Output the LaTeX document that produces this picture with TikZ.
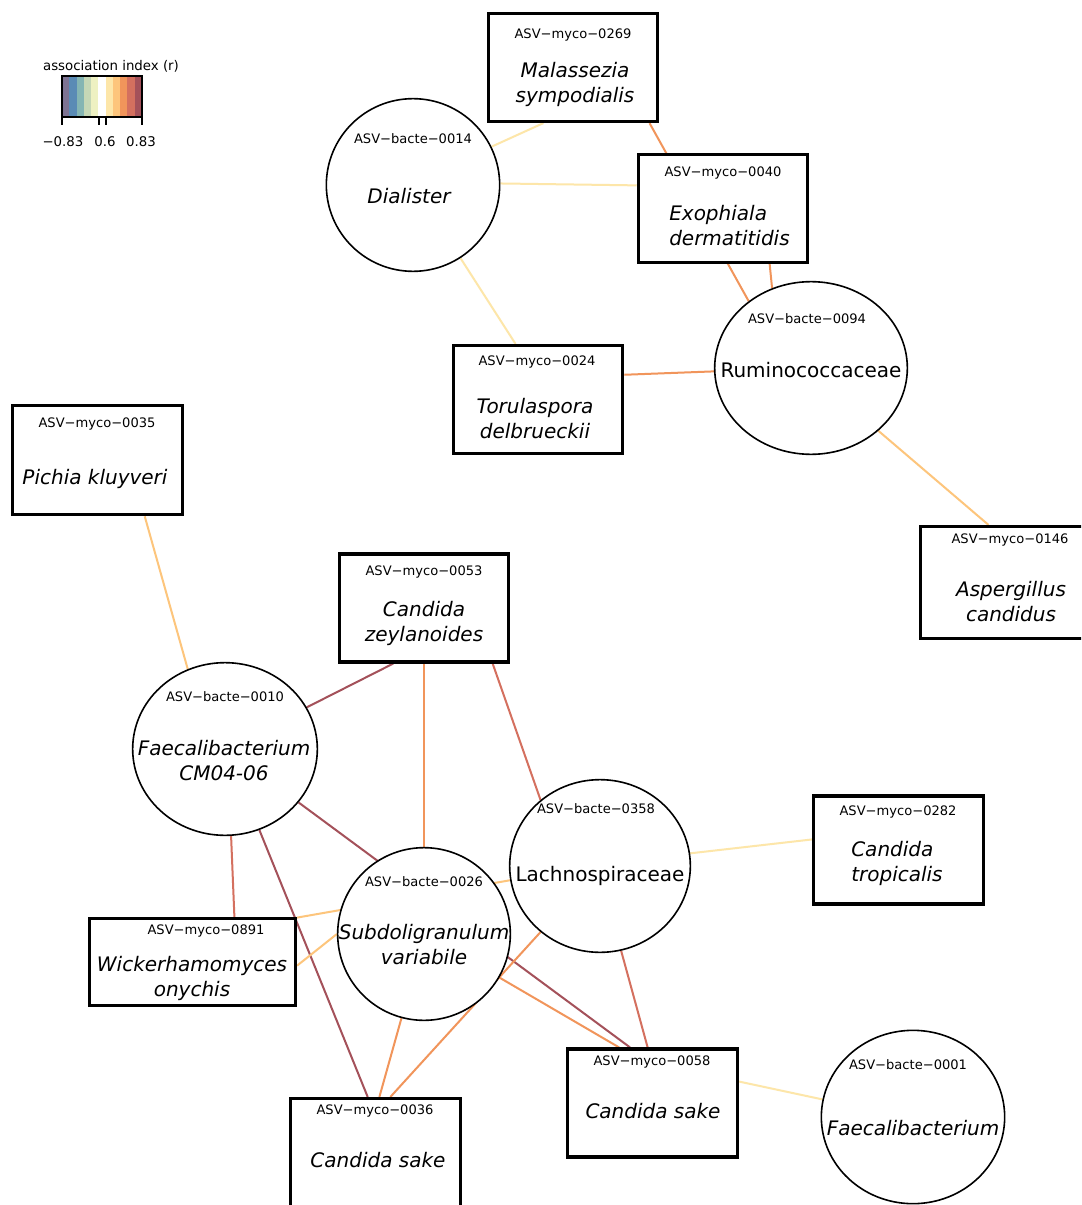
\documentclass[tikz,border=0pt]{standalone}
\usepackage{fontspec}
\setmainfont{DejaVu Sans}
\usetikzlibrary{shapes.geometric,backgrounds}
\definecolor{rpurple}{HTML}{7E7493}
\definecolor{rblue}{HTML}{5A8BB5}
\definecolor{rteal}{HTML}{84B5B3}
\definecolor{rsage}{HTML}{C5D7B6}
\definecolor{rcream}{HTML}{EEF1C2}
\definecolor{ryellow}{HTML}{FDE6A9}
\definecolor{rapricot}{HTML}{FDC57C}
\definecolor{rorange}{HTML}{F1955B}
\definecolor{rcoral}{HTML}{D4705F}
\definecolor{rmaroon}{HTML}{A4515A}

\begin{document}
\begin{tikzpicture}[x=0.75pt,y=-0.75pt,
  bact/.style={draw,ellipse,fill=white,line width=1.2pt,minimum height=129.5pt,inner sep=0pt},
  myco/.style={draw,rectangle,fill=white,line width=2.4pt,minimum width=127pt,minimum height=81pt,inner sep=0pt},
  asvlab/.style={font=\fontsize{9.8}{11}\selectfont,inner sep=0pt},
  taxlab/.style={font=\fontsize{15}{18.75}\selectfont\itshape,align=center,inner sep=0pt},
  famlab/.style={font=\fontsize{15}{18.75}\selectfont,inner sep=0pt},
  leglab/.style={font=\fontsize{10}{11}\selectfont,inner sep=0pt},
  link/.style={line width=1.5pt}]
  \useasboundingbox (0,0) rectangle (1081,1205);
  \clip (0,0) rectangle (1081,1205);

  % legend
  \node[leglab] (legtitle) at (111,66) {association index (r)};
  \foreach \c [count=\i from 0] in {rpurple,rblue,rteal,rsage,rcream,white,ryellow,rapricot,rorange,rcoral,rmaroon}
    \fill[\c] ({62+\i*80/11},76) rectangle ({62+(\i+1)*80/11},117);
  \draw[line width=0.8pt] (62,76) rectangle (142,117);
  \foreach \t in {62,99,106,142}
    \draw[line width=0.8pt] (\t,117) -- (\t,125);
  \node[leglab] (legmin) at (63,142) {−0.83};
  \node[leglab] (legmid) at (105,142) {0.6};
  \node[leglab] (legmax) at (141,142) {0.83};

  % bacteria
  \node[bact,minimum width=130pt] (dia) at (413,185) {};
  \node[asvlab] (diaid) at (413,139) {ASV−bacte−0014};
  \node[taxlab] (diatax) at (409,196) {Dialister};

  \node[bact,minimum width=144.5pt] (rum) at (811,368) {};
  \node[asvlab] (rumid) at (807,319) {ASV−bacte−0094};
  \node[famlab] (rumtax) at (811,370) {Ruminococcaceae};

  \node[bact,minimum width=138.5pt] (fcm) at (225,749) {};
  \node[asvlab] (fcmid) at (225,697) {ASV−bacte−0010};
  \node[taxlab] (fcmtax) at (224,761) {Faecalibacterium\\CM04-06};

  \node[bact,minimum width=129.5pt] (sub) at (424,934) {};
  \node[asvlab] (subid) at (424,882) {ASV−bacte−0026};
  \node[taxlab] (subtax) at (424,945) {Subdoligranulum\\variabile};

  \node[bact,minimum width=135.5pt] (lac) at (600,866) {};
  \node[asvlab] (lacid) at (596,809) {ASV−bacte−0358};
  \node[famlab] (lactax) at (600,876) {Lachnospiraceae};

  \node[bact,minimum width=137.5pt,minimum height=130pt] (fae) at (913,1117) {};
  \node[asvlab] (faeid) at (908,1065) {ASV−bacte−0001};
  \node[taxlab] (faetax) at (913,1128) {Faecalibacterium};

  % fungi
  \node[myco] (mal) at (573,67.5) {};
  \node[asvlab] (malid) at (573,35) {ASV−myco−0269};
  \node[taxlab] (maltax) at (575,84.5) {Malassezia\\sympodialis};

  \node[myco] (exo) at (723,208.5) {};
  \node[asvlab] (exoid) at (723,173) {ASV−myco−0040};
  \node[taxlab,align=left,anchor=west] (exotax) at (669,225.5) {Exophiala\\dermatitidis};

  \node[myco] (tor) at (538,399.5) {};
  \node[asvlab] (torid) at (537,362) {ASV−myco−0024};
  \node[taxlab] (tortax) at (535,418.5) {Torulaspora\\delbrueckii};

  \node[myco,minimum height=82pt] (pic) at (97.5,460) {};
  \node[asvlab] (picid) at (97,424) {ASV−myco−0035};
  \node[taxlab] (pictax) at (95,479) {Pichia kluyveri};

  \node[myco,minimum height=84pt] (asp) at (1005,582.5) {};
  \node[asvlab] (aspid) at (1010,540) {ASV−myco−0146};
  \node[taxlab] (asptax) at (1011,601.5) {Aspergillus\\candidus};

  \node[myco] (zey) at (424,608) {};
  \node[asvlab] (zeyid) at (424,572) {ASV−myco−0053};
  \node[taxlab] (zeytax) at (424,623.5) {Candida\\zeylanoides};

  \node[myco] (tro) at (898.5,850) {};
  \node[asvlab] (troid) at (898,812) {ASV−myco−0282};
  \node[taxlab,align=left,anchor=west] (trotax) at (851,863) {Candida\\tropicalis};

  \node[myco,minimum width=154.5pt,minimum height=65pt] (wic) at (192.5,962) {};
  \node[asvlab] (wicid) at (206,931) {ASV−myco−0891};
  \node[taxlab] (wictax) at (192,978.5) {Wickerhamomyces\\onychis};

  \node[myco] (csa) at (652.5,1103) {};
  \node[asvlab] (csaid) at (652,1062) {ASV−myco−0058};
  \node[taxlab] (csatax) at (653,1111) {Candida sake};

  \node[myco] (csb) at (375.5,1152.5) {};
  \node[asvlab] (csbid) at (375,1111) {ASV−myco−0036};
  \node[taxlab] (csbtax) at (378,1160) {Candida sake};

  \begin{pgfonlayer}{background}
    \fill[white] (0,0) rectangle (1081,1205);
    \draw[link,ryellow] (dia.26) -- (mal.-118);
    \draw[link,ryellow] (dia.1) -- (exo.165);
    \draw[link,rorange] (mal.-36) -- (rum.133);
    \draw[link,rorange] (exo.-50) -- (rum.116);
    \draw[link,ryellow] (dia.-57) -- (tor.112);
    \draw[link,rorange] (tor.16) -- (rum.-178);
    \draw[link,rapricot] (rum.-43) -- (asp.106);
    \draw[link,rapricot] (pic.-50) -- (fcm.115);
    \draw[link,rmaroon] (fcm.27) -- (zey.-119);
    \draw[link,rorange] (zey.south) -- (sub.north);
    \draw[link,rcoral] (zey.-39) -- (lac.132);
    \draw[link,rmaroon] (fcm.-36) -- (csa.112);
    \draw[link,rcoral] (fcm.-86) -- (wic.47);
    \draw[link,rmaroon] (fcm.-67) -- (csb.98);
    \draw[link,ryellow] (lac.8) -- (tro.173);
    \draw[link,rapricot] (wic.23) -- (lac.-171);
    \draw[link,rapricot] (wic.-2) -- (sub.180);
    \draw[link,rorange] (sub.-105) -- (csb.86);
    \draw[link,rorange] (lac.-132) -- (csb.75);
    \draw[link,rorange] (sub.-30) -- (csa.121);
    \draw[link,rcoral] (lac.-76) -- (csa.95);
    \draw[link,ryellow] (csa.14) -- (fae.169);
  \end{pgfonlayer}
\end{tikzpicture}
\end{document}
